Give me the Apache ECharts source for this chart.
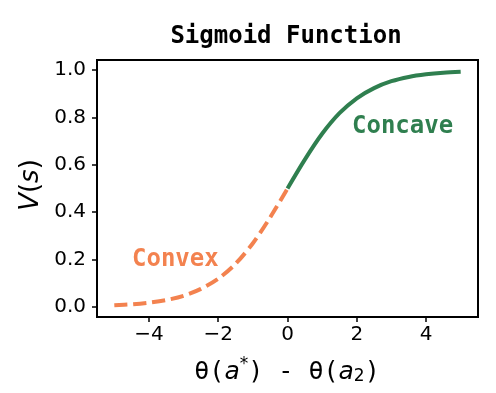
<!DOCTYPE html>
<html><head><meta charset="utf-8">
<script src="https://cdn.jsdelivr.net/npm/echarts@6/dist/echarts.min.js"></script>
<style>html,body{margin:0;padding:0;background:#fff}#c{width:496px;height:393px}</style>
</head><body><div id="c"></div>
<script>
const titleText = 'Sigmoid Function';
const xTicks = [-4, -2, 0, 2, 4];
const yTicks = [0, 0.2, 0.4, 0.6, 0.8, 1.0];
const convexX = [-5, -4.5, -4, -3.5, -3, -2.5, -2, -1.5, -1, -0.5, 0];
const convexY = [0.007, 0.011, 0.018, 0.029, 0.047, 0.076, 0.119, 0.182, 0.269, 0.378, 0.5];
const concaveX = [0, 0.5, 1, 1.5, 2, 2.5, 3, 3.5, 4, 4.5, 5];
const concaveY = [0.5, 0.622, 0.731, 0.818, 0.881, 0.924, 0.953, 0.971, 0.982, 0.989, 0.993];

const GREEN = '#2f7f4f', ORANGE = '#f3824f';
const chart = echarts.init(document.getElementById('c'), null, {renderer: 'canvas'});
const minus = v => (v < 0 ? '\u2212' + Math.abs(v) : String(v));
chart.setOption({
  animation: false,
  backgroundColor: '#fff',
  title: {text: titleText, left: 281, top: 20, textAlign: 'center',
    textStyle: {fontFamily: 'DejaVu Sans Mono', fontWeight: 'bold', fontSize: 24, color: '#000'}},
  grid: {left: 97, right: 18, top: 60, bottom: 76, show: true, borderColor: '#000', borderWidth: 2, backgroundColor: 'transparent'},
  xAxis: {type: 'value', min: -5.5, max: 5.5,
    axisLine: {show: false, onZero: false}, splitLine: {show: false},
    axisTick: {show: true, customValues: xTicks, length: 5, lineStyle: {color: '#000', width: 1.5}},
    axisLabel: {customValues: xTicks, formatter: minus, fontFamily: 'DejaVu Sans', fontSize: 20, color: '#000', margin: 8}},
  yAxis: {type: 'value', min: -0.0426, max: 1.0426,
    axisLine: {show: false, onZero: false}, splitLine: {show: false},
    axisTick: {show: true, customValues: yTicks, length: 5, lineStyle: {color: '#000', width: 1.5}},
    axisLabel: {customValues: yTicks, formatter: v => v.toFixed(1), fontFamily: 'DejaVu Sans', fontSize: 20, color: '#000', margin: 11}},
  series: [
    {type: 'line', data: convexX.map((x, i) => [x, convexY[i]]), smooth: 0.3, showSymbol: false,
      lineStyle: {color: ORANGE, width: 4, type: [13, 6]}, z: 3},
    {type: 'line', data: concaveX.map((x, i) => [x, concaveY[i]]), smooth: 0.3, showSymbol: false,
      lineStyle: {color: GREEN, width: 4}, z: 3}
  ],
  graphic: [
    {type: 'text', left: 352, top: 115, style: {text: 'Concave', fill: GREEN, font: 'bold 24px "DejaVu Sans Mono"'}},
    {type: 'text', left: 132, top: 248, style: {text: 'Convex', fill: ORANGE, font: 'bold 24px "DejaVu Sans Mono"'}},
    {type: 'text', x: 287, y: 372, style: {
      text: '{m|\u03b8(}{i|a}{s|*}{m|) - \u03b8(}{i|a}{b|2}{m|)}', align: 'center', verticalAlign: 'middle',
      rich: {
        m: {fontFamily: 'DejaVu Sans Mono', fontSize: 25, fill: '#000'},
        i: {fontFamily: 'DejaVu Sans', fontStyle: 'italic', fontSize: 25, fill: '#000'},
        s: {fontFamily: 'DejaVu Sans', fontSize: 17, fill: '#000', padding: [0, 0, 14, 0]},
        b: {fontFamily: 'DejaVu Sans', fontSize: 17, fill: '#000', padding: [10, 0, 0, 0]}
      }}},
    {type: 'text', x: 31, y: 185, rotation: Math.PI / 2, style: {
      text: '{i|V}{m|(}{i|s}{m|)}', align: 'center', verticalAlign: 'middle',
      rich: {
        m: {fontFamily: 'DejaVu Sans', fontSize: 26, fill: '#000'},
        i: {fontFamily: 'DejaVu Sans', fontStyle: 'italic', fontSize: 26, fill: '#000'}
      }}}
  ]
});
</script></body></html>
